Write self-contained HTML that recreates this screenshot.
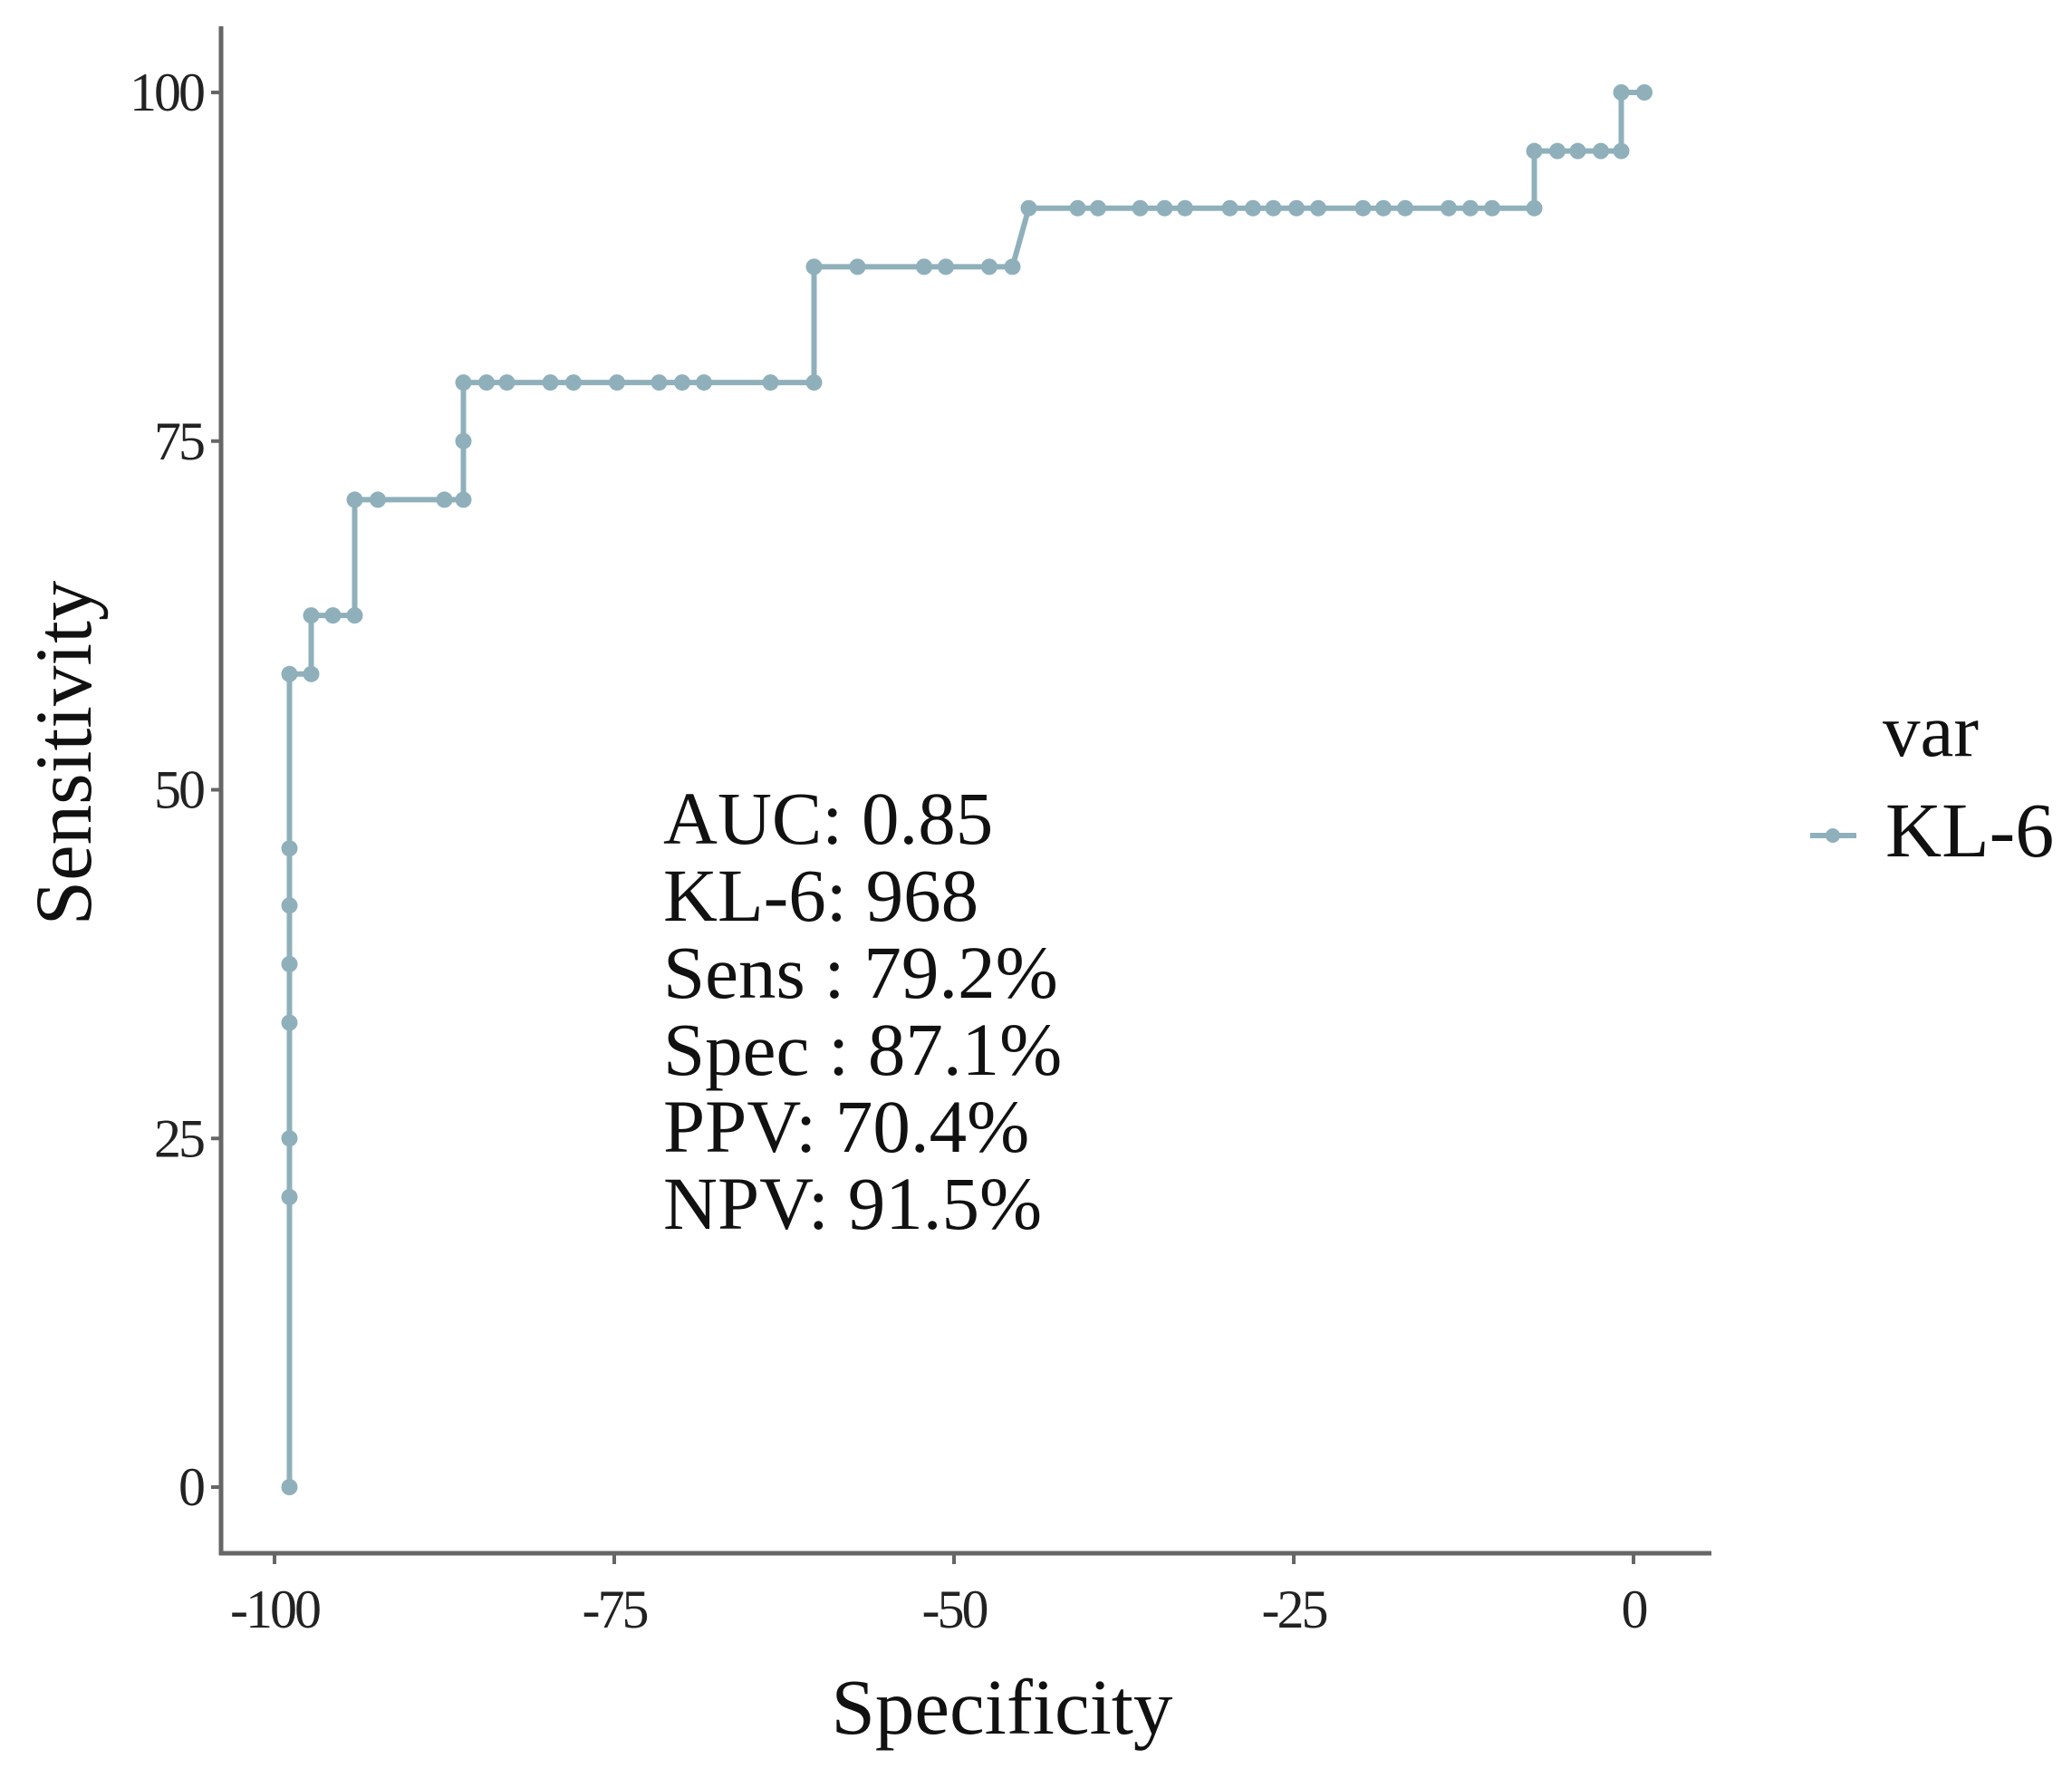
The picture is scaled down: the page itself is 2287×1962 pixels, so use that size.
<!DOCTYPE html>
<html><head><meta charset="utf-8"><style>
html,body{margin:0;padding:0;background:#fff;}
svg{display:block;font-family:"Liberation Serif",serif;}
</style></head><body>
<svg id="chart" width="2287" height="1962" viewBox="0 0 2287 1962" xmlns="http://www.w3.org/2000/svg">
<g id="axes"></g>
<g id="series"></g>
<g font-size="83" fill="#111">
<text x="732" y="931">AUC: 0.85</text>
<text x="732" y="1016">KL-6: 968</text>
<text x="732" y="1101">Sens : 79.2%</text>
<text x="732" y="1186">Spec : 87.1%</text>
<text x="732" y="1271">PPV: 70.4%</text>
<text x="732" y="1356">NPV: 91.5%</text>
</g>
<text x="1106" y="1913" font-size="87" text-anchor="middle" fill="#111">Specificity</text>
<text transform="translate(100,831) rotate(-90)" font-size="89" text-anchor="middle" fill="#111">Sensitivity</text>
<g>
<text x="2078" y="834" font-size="83" fill="#111">var</text>
<line x1="1998" y1="922" x2="2049" y2="922" stroke="#8fb0bb" stroke-width="6"/>
<circle cx="2023" cy="922" r="8" fill="#8fb0bb"/>
<text x="2081" y="945" font-size="86" fill="#111">KL-6</text>
</g>
</svg>
<script>
const specificity = [-98.9,-98.9,-98.9,-98.9,-98.9,-98.9,-98.9,-98.9,-97.3,-97.3,-95.7,-94.1,-94.1,-92.4,-87.5,-86.1,-86.1,-86.1,-84.4,-82.9,-79.7,-78.0,-74.8,-71.7,-70.0,-68.4,-63.5,-60.3,-60.3,-57.1,-52.2,-50.6,-47.4,-45.7,-44.5,-40.9,-39.4,-36.3,-34.5,-33.0,-29.7,-28.0,-26.5,-24.8,-23.2,-19.9,-18.4,-16.8,-13.6,-12.0,-10.4,-7.3,-7.3,-5.6,-4.1,-2.4,-0.9,-0.9,0.8];
const sensitivity = [0,20.8,25,33.3,37.5,41.7,45.8,58.3,58.3,62.5,62.5,62.5,70.8,70.8,70.8,70.8,75,79.2,79.2,79.2,79.2,79.2,79.2,79.2,79.2,79.2,79.2,79.2,87.5,87.5,87.5,87.5,87.5,87.5,91.7,91.7,91.7,91.7,91.7,91.7,91.7,91.7,91.7,91.7,91.7,91.7,91.7,91.7,91.7,91.7,91.7,91.7,95.8,95.8,95.8,95.8,95.8,100,100];
const xTicks = [-100,-75,-50,-25,0];
const yTicks = [0,25,50,75,100];
const NS='http://www.w3.org/2000/svg';
const xScale = v => 303 + (v + 100) * 15.0;
const yScale = v => 1641 - v * 15.39;
const axes = document.getElementById('axes');
const series = document.getElementById('series');
function mk(tag, attrs, parent){const e=document.createElementNS(NS,tag);for(const k in attrs)e.setAttribute(k,attrs[k]);parent.appendChild(e);return e;}
const ya = mk('line',{x1:244,y1:29,x2:244,y2:1716,stroke:'#666','stroke-width':5},axes);


const xa = mk('line',{x1:242,y1:1714,x2:1889,y2:1714,stroke:'#666','stroke-width':5},axes);


yTicks.forEach(t=>{
  const y=yScale(t);
  const l=mk('line',{x1:233,y1:y,x2:244,y2:y,stroke:'#666','stroke-width':4},axes);
  
  
  const tx=mk('text',{x:224,y:y+20,'font-size':60,'text-anchor':'end',fill:'#222','letter-spacing':'-3'},axes);
  tx.textContent=t;
  
  
});
xTicks.forEach(t=>{
  const x=xScale(t);
  const l=mk('line',{x1:x,y1:1714,x2:x,y2:1726,stroke:'#666','stroke-width':4},axes);
  
  
  const tx=mk('text',{x:x,y:1796,'font-size':60,'text-anchor':'middle',fill:'#222','letter-spacing':'-3'},axes);
  tx.textContent=t;
  
  
});
const d = specificity.map((s,i)=>(i?'L':'M')+xScale(s).toFixed(1)+','+yScale(sensitivity[i]).toFixed(1)).join(' ');
const p = mk('path',{d:d,fill:'none',stroke:'#8fb0bb','stroke-width':6,'stroke-linejoin':'round'},series);


specificity.forEach((s,i)=>{
  const c=mk('circle',{cx:xScale(s),cy:yScale(sensitivity[i]),r:9,fill:'#8fb0bb'},series);
  
  
});
</script>
</body></html>
